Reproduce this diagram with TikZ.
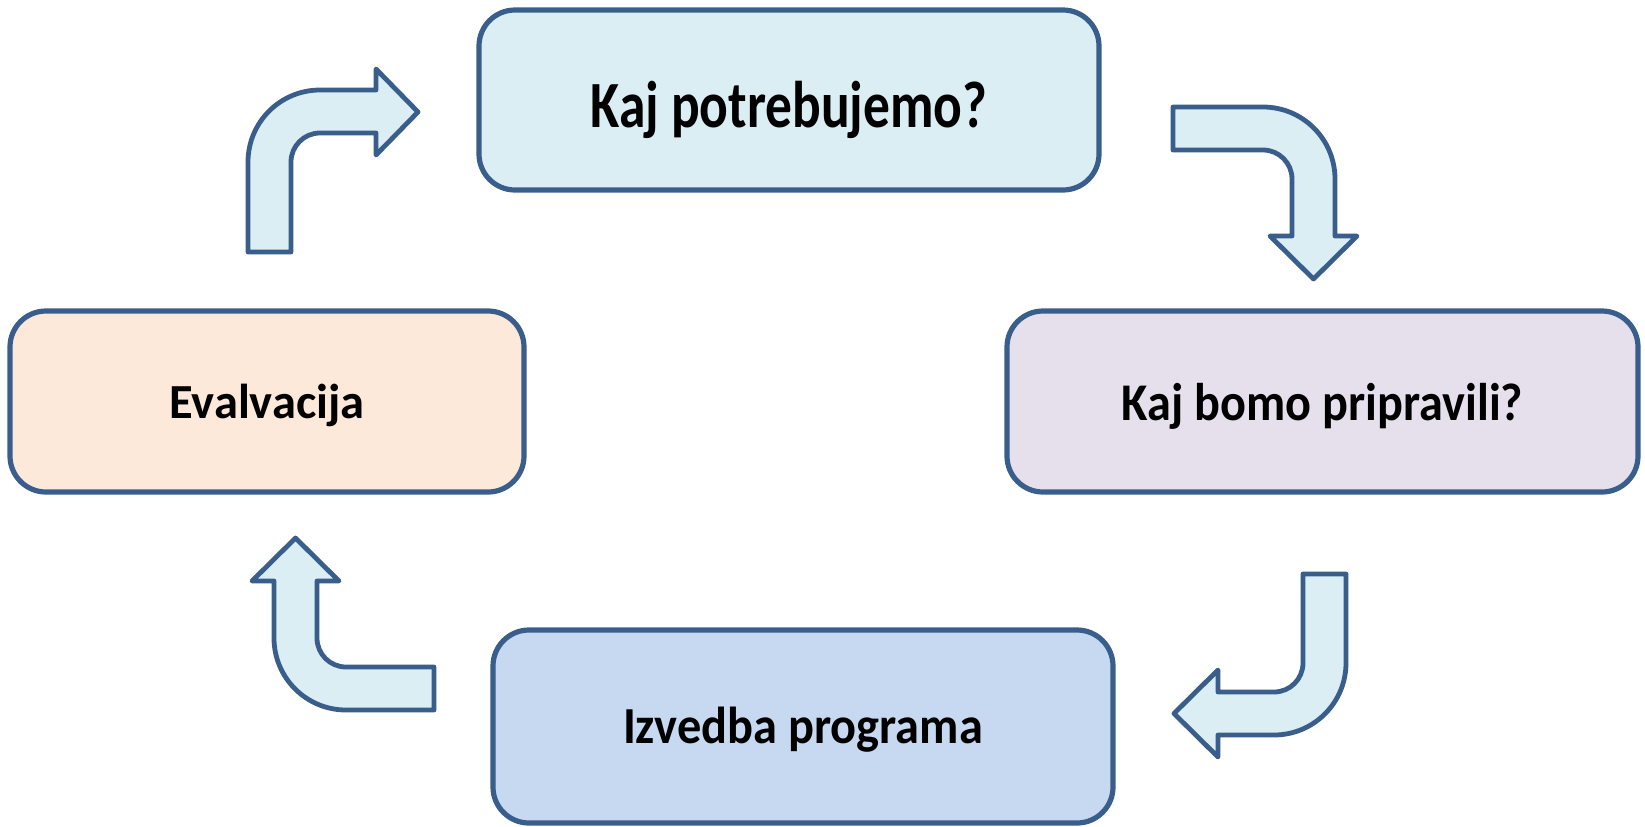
\documentclass[tikz,border=0pt]{standalone}
\usepackage{fontspec}
\setmainfont{Carlito}
\definecolor{edge}{HTML}{3A5E8C}
\definecolor{arrowfill}{HTML}{DAEEF3}
\definecolor{topfill}{HTML}{DBEEF4}
\definecolor{rightfill}{HTML}{E5E0EC}
\definecolor{leftfill}{HTML}{FDE9D9}
\definecolor{bottomfill}{HTML}{C6D9F1}
\newcommand{\lbl}[4]{\scalebox{#2}[1]{\fontsize{#1}{#3}\selectfont\bfseries #4}}
\begin{document}
\begin{tikzpicture}[x=0.5pt,y=0.5pt,
  stagebox/.style={draw=edge, line width=2.6pt, rounded corners=18pt,
    text=black, inner sep=0pt, text depth=0pt},
  blockarrow/.style={draw=edge, fill=arrowfill, line width=2.4pt, line join=round}]
\useasboundingbox (0,0) rectangle (1645,-826);
\node[stagebox, fill=topfill, minimum width=310pt, minimum height=90pt, text height=27pt] (top) at (789,-100) {\lbl{33}{0.81}{40}{Kaj potrebujemo?}};
\node[stagebox, fill=rightfill, minimum width=315.5pt, minimum height=90.5pt, text height=18.5pt] (right) at (1322.5,-401.5) {\lbl{26.5}{0.91}{32}{Kaj bomo pripravili?}};
\node[stagebox, fill=leftfill, minimum width=257pt, minimum height=90.5pt, text height=16.5pt] (left) at (267,-401.5) {\lbl{24.5}{0.99}{30}{Evalvacija}};
\node[stagebox, fill=bottomfill, minimum width=310pt, minimum height=96.5pt, text height=16.5pt] (bottom) at (803,-726.5) {\lbl{26}{0.93}{31}{Izvedba programa}};
% left -> top
\draw[blockarrow] (248,-252) -- (248,-162) arc[start angle=180,end angle=90,radius=72]
  -- (376,-90) -- (376,-69) -- (418,-112) -- (376,-155) -- (376,-133) -- (320,-133)
  arc[start angle=90,end angle=180,radius=29] -- (291,-252) -- cycle;
% top -> right
\draw[blockarrow] (1173,-107) -- (1263,-107) arc[start angle=90,end angle=0,radius=72]
  -- (1335,-236) -- (1357,-236) -- (1313.5,-279) -- (1270,-236) -- (1292,-236) -- (1292,-179)
  arc[start angle=0,end angle=90,radius=29] -- (1173,-150) -- cycle;
% right -> bottom
\draw[blockarrow] (1303,-574) -- (1346,-574) -- (1346,-663) arc[start angle=0,end angle=-90,radius=72]
  -- (1218,-735) -- (1218,-757) -- (1174,-713.5) -- (1218,-670) -- (1218,-692) -- (1274,-692)
  arc[start angle=-90,end angle=0,radius=29] -- cycle;
% bottom -> left
\draw[blockarrow] (434,-667) -- (346,-667) arc[start angle=270,end angle=180,radius=29]
  -- (317,-581) -- (339,-581) -- (295.5,-538) -- (252,-581) -- (274,-581) -- (274,-638)
  arc[start angle=180,end angle=270,radius=72] -- (434,-710) -- cycle;
\end{tikzpicture}
\end{document}
